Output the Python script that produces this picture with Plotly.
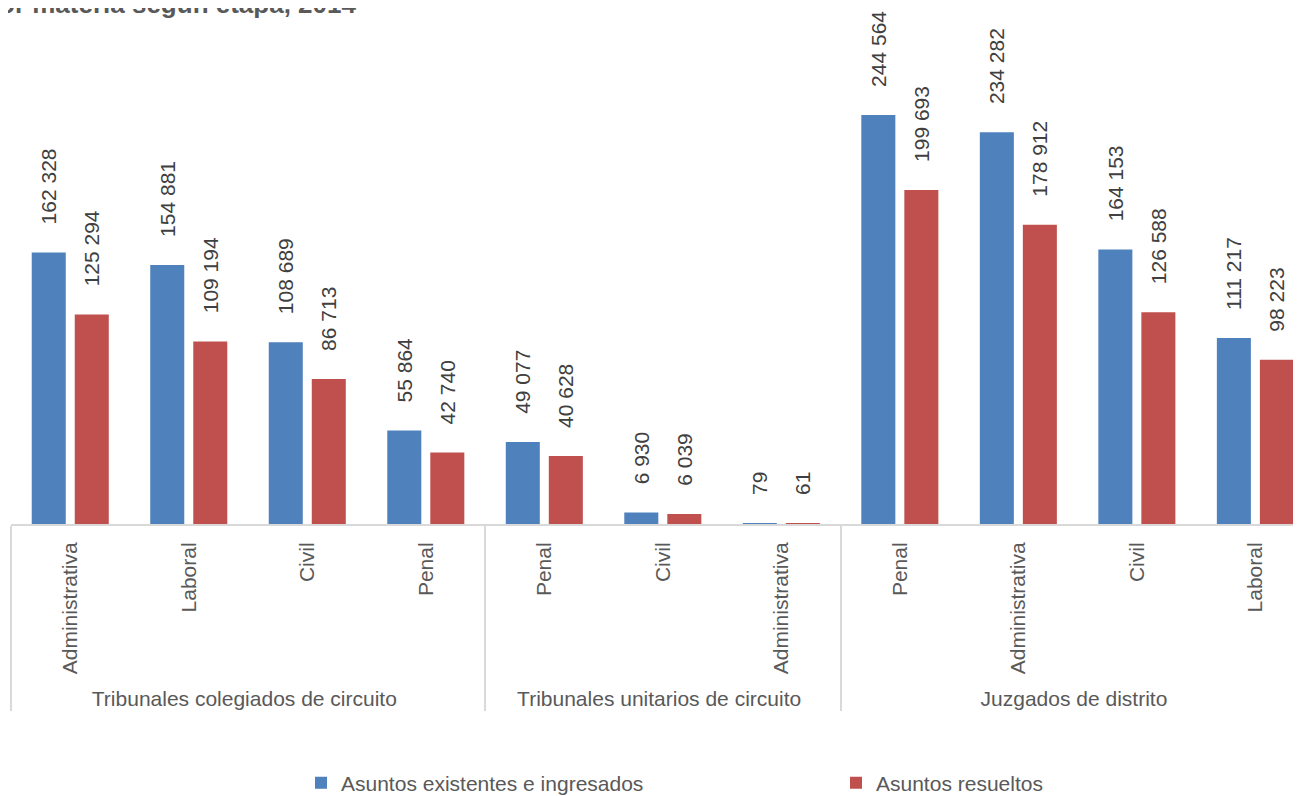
import plotly.graph_objects as go

# ---- data ----
groups = ["Tribunales colegiados de circuito"] * 4 + ["Tribunales unitarios de circuito"] * 3 + ["Juzgados de distrito"] * 4
materias = ["Administrativa", "Laboral", "Civil", "Penal",
            "Penal", "Civil", "Administrativa",
            "Penal", "Administrativa", "Civil", "Laboral"]
existentes = [162328, 154881, 108689, 55864, 49077, 6930, 79, 244564, 234282, 164153, 111217]
resueltos = [125294, 109194, 86713, 42740, 40628, 6039, 61, 199693, 178912, 126588, 98223]
series_names = ["Asuntos existentes e ingresados", "Asuntos resueltos"]
title_text = "or materia según etapa, 2014"

BLUE = "#4F81BD"
RED = "#C0504D"
GRAY = "#595959"
LABEL = "#404040"
FONT = "Liberation Sans, Arial, sans-serif"

# figure size (the page body adds an 8px offset)
W, H = 1293, 788
ML, MT, MB = 3, 81, 272
PW, PH = W - ML, H - MT - MB

# keep the original category order inside every group (invisible suffix makes each inner label unique)
group_order = list(dict.fromkeys(groups))
inner = [m + "\u200b" * group_order.index(g) for g, m in zip(groups, materias)]

def fmt(v):
    return "\u00a0" * 4 + "\u200a" + f"{v:,}".replace(",", " ")

fig = go.Figure()
for k, (name, vals, col) in enumerate([(series_names[0], existentes, BLUE), (series_names[1], resueltos, RED)]):
    fig.add_trace(go.Bar(
        x=[groups, inner], y=vals, name=name,
        marker=dict(color=col, line=dict(width=0)),
        text=[fmt(v) for v in vals], textposition="outside", textangle=-90,
        constraintext="none",
        textfont=dict(family=FONT, size=21, color=LABEL),
        cliponaxis=False, hoverinfo="skip",
        legend="legend" if k == 0 else "legend2",
    ))

fig.add_annotation(
    text=f"<b>{title_text}</b>", xref="paper", yref="paper",
    x=(350 - ML) / PW, xanchor="right", y=1.0, yanchor="bottom",
    yshift=MT - 13, showarrow=False, font=dict(family=FONT, size=26, color=GRAY),
)

legend_common = dict(orientation="h", xanchor="left", yanchor="middle",
                     xref="container", yref="container",
                     font=dict(family=FONT, size=21, color=GRAY),
                     bgcolor="rgba(0,0,0,0)")

fig.update_layout(
    width=W, height=H,
    margin=dict(l=ML, r=0, t=MT, b=MB, autoexpand=False),
    paper_bgcolor="white", plot_bgcolor="white",
    barmode="group", bargap=0.274, bargroupgap=0.209,
    showlegend=True,
    legend=dict(x=293 / W, y=1 - 775 / H, **legend_common),
    legend2=dict(x=828 / W, y=1 - 775 / H, **legend_common),
    font=dict(family=FONT, color=GRAY),
)
fig.update_xaxes(
    type="multicategory", range=[-0.5, 10.385], automargin=False,
    showline=True, linecolor="#D9D9D9", linewidth=2,
    ticks="", tickangle=-90, ticklabelstandoff=8,
    tickfont=dict(family=FONT, size=21, color=GRAY),
    dividercolor="#D9D9D9", dividerwidth=2,
    showgrid=False, zeroline=False,
)
fig.update_yaxes(range=[0, 260106], visible=False, showgrid=False, zeroline=False)

fig.write_html("out.html")
